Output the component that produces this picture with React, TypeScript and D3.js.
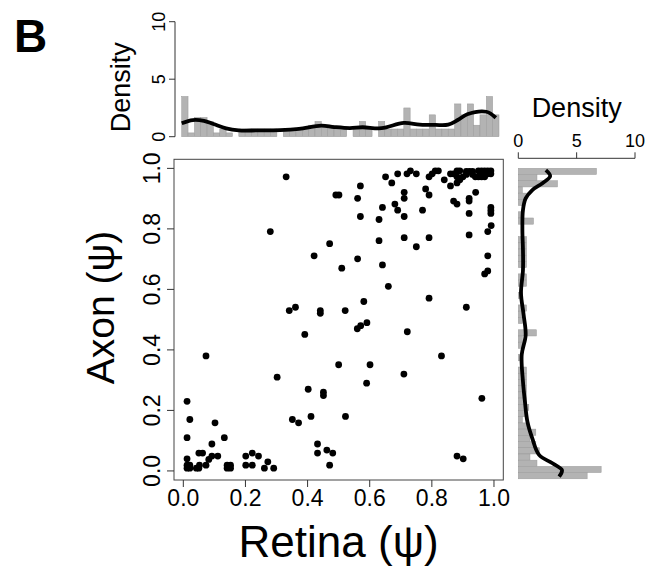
import React from 'react';
import * as d3 from 'd3';

// scatter: [retina psi, axon psi]
const points: [number, number][] = [
  [0.391, 0.451], [0.073, 0.38], [0.56, 0.47], [0.571, 0.48], [0.591, 0.49], [0.721, 0.46],
  [0.831, 0.38], [0.302, 0.31], [0.5, 0.351], [0.601, 0.351], [0.71, 0.32], [0.59, 0.29],
  [0.402, 0.27], [0.451, 0.26], [0.451, 0.249], [0.961, 0.24], [0.012, 0.23], [0.021, 0.17],
  [0.102, 0.159], [0.351, 0.17], [0.371, 0.159], [0.411, 0.18], [0.522, 0.18], [0.012, 0.11],
  [0.132, 0.11], [0.092, 0.089], [0.432, 0.089], [0.432, 0.059], [0.462, 0.069], [0.481, 0.059],
  [0.471, 0.019], [0.881, 0.049], [0.901, 0.04], [0.012, 0.04], [0.05, 0.059], [0.062, 0.059],
  [0.111, 0.049], [0.092, 0.049], [0.082, 0.038], [0.073, 0.019], [0.052, 0.019], [0.042, 0.009],
  [0.05, 0.009], [0.012, 0.019], [0.021, 0.019], [0.012, 0.009], [0.021, 0.009], [0.141, 0.019],
  [0.152, 0.019], [0.141, 0.009], [0.152, 0.009], [0.201, 0.049], [0.201, 0.019], [0.222, 0.059],
  [0.222, 0.019], [0.242, 0.049], [0.272, 0.03], [0.261, 0.009], [0.291, 0.009],
  [0.331, 0.972], [0.28, 0.791], [0.471, 0.751], [0.421, 0.711], [0.51, 0.67], [0.561, 0.701],
  [0.641, 0.681], [0.66, 0.61], [0.581, 0.56], [0.791, 0.571], [0.911, 0.541], [0.341, 0.53],
  [0.361, 0.541], [0.441, 0.53], [0.441, 0.521], [0.521, 0.53], [0.63, 0.761], [0.711, 0.771],
  [0.75, 0.741], [0.791, 0.771], [0.92, 0.78], [0.98, 0.791], [0.991, 0.811], [0.98, 0.711],
  [0.97, 0.651], [0.98, 0.661], [0.57, 0.841], [0.63, 0.831], [0.641, 0.871], [0.681, 0.882],
  [0.69, 0.862], [0.711, 0.841], [0.77, 0.862], [0.561, 0.901], [0.491, 0.912], [0.501, 0.912],
  [0.57, 0.942], [0.651, 0.972], [0.671, 0.952], [0.69, 0.982], [0.711, 0.921], [0.711, 0.901],
  [0.72, 0.982], [0.731, 0.992], [0.75, 0.982], [0.78, 0.932], [0.791, 0.912], [0.791, 0.972],
  [0.801, 0.982], [0.811, 0.992], [0.821, 0.992], [0.84, 0.962], [0.86, 0.942], [0.86, 0.982],
  [0.87, 0.982], [0.881, 0.992], [0.89, 0.992], [0.881, 0.972], [0.89, 0.962], [0.881, 0.952],
  [0.9, 0.972], [0.87, 0.892], [0.881, 0.882], [0.92, 0.901], [0.92, 0.892], [0.92, 0.851],
  [0.941, 0.921], [0.911, 0.99], [0.921, 0.99], [0.931, 0.99], [0.911, 0.98], [0.931, 0.98],
  [0.94, 0.972], [0.95, 0.972], [0.96, 0.972], [0.95, 0.992], [0.96, 0.992], [0.97, 0.992],
  [0.98, 0.992], [0.99, 0.992], [0.98, 0.982], [0.99, 0.982], [0.97, 0.972], [0.99, 0.871],
  [0.99, 0.861], [0.99, 0.851],
];

// density histogram of retina psi, 50 bins from 0 to 1
const retinaHist = [
  3.5, 0.33, 1.67, 1.67, 1.33, 0.33, 0.67, 0.33, 0, 0.67,
  0.67, 0.67, 0.67, 0.67, 0.67, 0, 0.67, 0.67, 0.67, 0.67,
  1.0, 1.33, 1.0, 1.0, 0.67, 0.67, 0, 0.67, 1.33, 0.67,
  0, 1.33, 0.67, 0.67, 0.67, 2.5, 0.67, 0.67, 0.67, 1.9,
  0.67, 0.67, 0.67, 2.85, 1.9, 2.85, 1.0, 1.9, 3.5, 1.9,
];

// density histogram of axon psi, 50 bins from 1 down to 0
const axonHist = [
  6.7, 1.6, 3.36, 0.35, 0.7, 0.35, 0, 0.35, 1.3, 0,
  0, 0.7, 0.7, 0.7, 0.7, 0.7, 0, 0.7, 0.7, 0,
  0.35, 0, 0.7, 0.35, 0.35, 0, 1.55, 0.35, 0.35, 0,
  0.35, 0, 0.7, 0.7, 0.7, 0.7, 0.7, 0.7, 0.9, 0.7,
  0.35, 0.9, 1.5, 1.0, 1.5, 1.8, 1.0, 1.6, 7.1, 5.9,
];

// kernel density curves [value, density]
const retinaDensity: [number, number][] = [
  [0.0, 1.17], [0.035, 1.45], [0.07, 1.38], [0.1, 1.1], [0.14, 0.72], [0.18, 0.55], [0.24, 0.55],
  [0.31, 0.57], [0.37, 0.68], [0.44, 0.96], [0.48, 0.84], [0.53, 0.75], [0.57, 0.82], [0.63, 0.74],
  [0.7, 1.2], [0.75, 1.05], [0.8, 1.02], [0.84, 1.05], [0.87, 1.45], [0.9, 1.95], [0.96, 2.17],
  [0.99, 1.65],
];

const axonDensity: [number, number][] = [
  [0.994, 2.36], [0.975, 2.73], [0.952, 2.07], [0.93, 1.2], [0.903, 0.63], [0.866, 0.4],
  [0.801, 0.35], [0.737, 0.4], [0.672, 0.4], [0.598, 0.23], [0.53, 0.45], [0.463, 0.63],
  [0.399, 0.29], [0.313, 0.4], [0.248, 0.57], [0.184, 0.78], [0.13, 1.2], [0.077, 1.78],
  [0.05, 2.93], [0.028, 3.74], [0.007, 3.5],
];

const psiTicks = [0, 0.2, 0.4, 0.6, 0.8, 1.0];
const densityTicks = [0, 5, 10];

const FONT = "'Liberation Sans', Arial, Helvetica, sans-serif";
const AXIS = '#333';
const BAR = '#b3b3b3';

const App = () => {
  // main scatter
  const x = d3.scaleLinear().domain([-0.03, 1.03]).range([174, 503.3]);
  const y = d3.scaleLinear().domain([-0.03, 1.03]).range([480, 159.3]);

  // top histogram
  const topX = d3.scaleLinear().domain([0, 1]).range([181.7, 499]);
  const topBand = d3.scaleBand<number>().domain(d3.range(retinaHist.length)).range([181.7, 499]);
  const topY = d3.scaleLinear().domain([0, 10]).range([136.7, 21.7]);

  // right histogram
  const rightY = d3.scaleLinear().domain([0, 1]).range([478.8, 168.3]);
  const rightBand = d3.scaleBand<number>().domain(d3.range(axonHist.length)).range([168.3, 478.8]);
  const rightX = d3.scaleLinear().domain([0, 10]).range([518.3, 635]);

  const topLine = d3.line<[number, number]>()
    .x(d => topX(d[0]))
    .y(d => topY(d[1]))
    .curve(d3.curveCatmullRom);

  const rightLine = d3.line<[number, number]>()
    .x(d => rightX(d[1]))
    .y(d => rightY(d[0]))
    .curve(d3.curveCatmullRom);

  const fmt = d3.format('.1f');

  return (
    <svg width={646} height={568} style={{ position: 'absolute', left: 0, top: 0, background: '#fff' }}
      fontFamily={FONT}>
      <text x={14} y={52} fontSize={46} fontWeight="bold">B</text>

      {/* top histogram */}
      {retinaHist.map((v, i) => v > 0 && (
        <rect key={'t' + i} x={topBand(i)} y={topY(v)} width={topBand.bandwidth()}
          height={topY(0) - topY(v)} fill={BAR} stroke="#999" strokeWidth={0.5} />
      ))}
      <path d={topLine(retinaDensity) || ''} fill="none" stroke="#000" strokeWidth={3.8} />
      <line x1={175} x2={175} y1={topY(0)} y2={topY(10)} stroke={AXIS} />
      {densityTicks.map(t => (
        <g key={'ty' + t} transform={`translate(175,${topY(t)})`}>
          <line x1={0} x2={-6} stroke={AXIS} />
          <text transform="translate(-10,0) rotate(-90)" textAnchor="middle" fontSize={18}>{t}</text>
        </g>
      ))}
      <text transform={`translate(130,${topY(4.3)}) rotate(-90)`} textAnchor="middle" fontSize={27}>Density</text>

      {/* right histogram */}
      {axonHist.map((v, i) => v > 0 && (
        <rect key={'r' + i} x={rightX(0)} y={rightBand(i)} width={rightX(v) - rightX(0)}
          height={rightBand.bandwidth()} fill={BAR} stroke="#999" strokeWidth={0.5} />
      ))}
      <path d={rightLine(axonDensity) || ''} fill="none" stroke="#000" strokeWidth={3.8} />
      <line x1={rightX(0)} x2={rightX(10)} y1={158.3} y2={158.3} stroke={AXIS} />
      {densityTicks.map(t => (
        <g key={'rx' + t} transform={`translate(${rightX(t)},158.3)`}>
          <line y1={0} y2={-6} stroke={AXIS} />
          <text y={-11} textAnchor="middle" fontSize={18}>{t}</text>
        </g>
      ))}
      <text x={rightX(5)} y={117} textAnchor="middle" fontSize={27}>Density</text>

      {/* scatter */}
      <rect x={x(-0.03)} y={y(1.03)} width={x(1.03) - x(-0.03)} height={y(-0.03) - y(1.03)}
        fill="none" stroke="#444" />
      {points.map((p, i) => (
        <circle key={'p' + i} cx={x(p[0])} cy={y(p[1])} r={3.4} fill="#000" />
      ))}
      {psiTicks.map(t => (
        <g key={'x' + t} transform={`translate(${x(t)},480)`}>
          <line y1={0} y2={7} stroke={AXIS} />
          <text y={26} textAnchor="middle" fontSize={23}>{fmt(t)}</text>
        </g>
      ))}
      {psiTicks.map(t => (
        <g key={'y' + t} transform={`translate(174,${y(t)})`}>
          <line x1={0} x2={-7} stroke={AXIS} />
          <text transform="translate(-14,0) rotate(-90)" textAnchor="middle" fontSize={23}>{fmt(t)}</text>
        </g>
      ))}
      <text x={x(0.5)} y={557} textAnchor="middle" fontSize={44}>Retina (ψ)</text>
      <text transform={`translate(114,${y(0.54)}) rotate(-90)`} textAnchor="middle" fontSize={39}>Axon (ψ)</text>
    </svg>
  );
};

export default App;
